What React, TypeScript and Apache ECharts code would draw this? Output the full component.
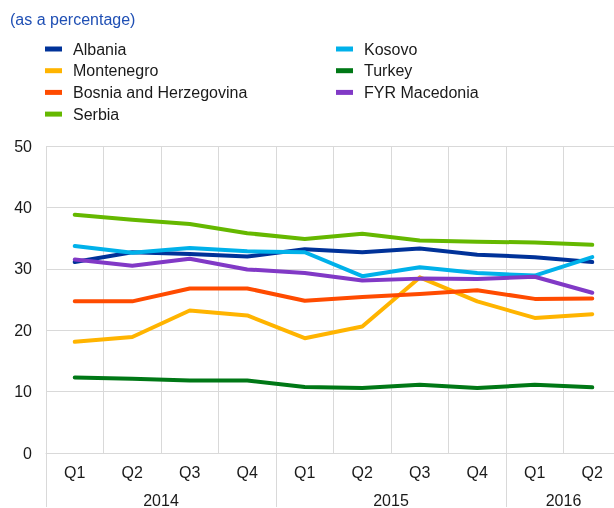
import React, { useEffect, useRef } from "react";
import * as echarts from "echarts";

const years = ["2014", "2015", "2016"];
const quartersPerYear = [4, 4, 2];
const quarterNames = ["Q1", "Q2", "Q3", "Q4"];

const albania = [31.1, 32.7, 32.4, 32.0, 33.2, 32.7, 33.3, 32.3, 31.9, 31.1];
const montenegro = [18.1, 18.9, 23.2, 22.4, 18.7, 20.6, 28.6, 24.7, 22.0, 22.6];
const bosnia = [24.7, 24.7, 26.8, 26.8, 24.8, 25.4, 25.9, 26.5, 25.1, 25.15];
const serbia = [38.8, 38.0, 37.3, 35.8, 34.85, 35.7, 34.6, 34.4, 34.3, 33.9];
const kosovo = [33.7, 32.6, 33.4, 32.85, 32.7, 28.8, 30.25, 29.3, 28.9, 31.9];
const turkey = [12.3, 12.1, 11.8, 11.8, 10.75, 10.6, 11.1, 10.6, 11.1, 10.7];
const macedonia = [31.5, 30.5, 31.65, 29.9, 29.3, 28.1, 28.4, 28.35, 28.7, 26.1];

const yTicks = [0, 10, 20, 30, 40, 50];

const seriesDefs = [
  { name: "Albania", data: albania, color: "#003299" },
  { name: "Montenegro", data: montenegro, color: "#ffb400" },
  { name: "Bosnia and Herzegovina", data: bosnia, color: "#ff4b00" },
  { name: "Serbia", data: serbia, color: "#65b800" },
  { name: "Kosovo", data: kosovo, color: "#00b1ea" },
  { name: "Turkey", data: turkey, color: "#007816" },
  { name: "FYR Macedonia", data: macedonia, color: "#8139c6" },
];

const FONT = "'Liberation Sans', Arial, Helvetica, sans-serif";

export default function App() {
  const ref = useRef<HTMLDivElement>(null);
  useEffect(() => {
    if (!ref.current) return;
    const chart = echarts.init(ref.current, undefined, { renderer: "svg" });

    const categories: string[] = [];
    const yearCenters: Record<number, string> = {};
    let start = 0;
    years.forEach((y, i) => {
      for (let q = 0; q < quartersPerYear[i]; q++) categories.push(y + " " + quarterNames[q]);
      yearCenters[start + quartersPerYear[i] / 2] = y;
      start += quartersPerYear[i];
    });
    const boundaries = new Set<number>();
    let acc = 0;
    quartersPerYear.forEach((n) => {
      boundaries.add(acc);
      acc += n;
    });

    const grid = "#d9d9d9";
    const legendText = { fontSize: 16, color: "#1a1a1a", fontFamily: FONT, lineHeight: 16, padding: [0, 0, 0, 6] };

    chart.setOption({
      animation: false,
      title: {
        text: "(as a percentage)",
        left: 10,
        top: 11,
        padding: 0,
        textStyle: { fontSize: 16, color: "#1f4fb4", fontWeight: "normal", fontFamily: FONT },
      },
      legend: [
        {
          data: seriesDefs.slice(0, 4).map((s) => s.name),
          orient: "vertical",
          left: 45,
          top: 41,
          padding: 0,
          itemWidth: 17,
          itemHeight: 5,
          itemGap: 5.7,
          icon: "rect",
          textStyle: legendText,
          selectedMode: false,
        },
        {
          data: seriesDefs.slice(4).map((s) => s.name),
          orient: "vertical",
          left: 336,
          top: 41,
          padding: 0,
          itemWidth: 17,
          itemHeight: 5,
          itemGap: 5.7,
          icon: "rect",
          textStyle: legendText,
          selectedMode: false,
        },
      ],
      grid: { left: 46, right: 0, top: 146, bottom: 54, containLabel: false },
      xAxis: [
        {
          type: "category",
          data: categories,
          boundaryGap: true,
          axisLine: { show: true, lineStyle: { color: grid, width: 1 } },
          axisTick: {
            show: true,
            length: 54,
            interval: (i: number) => boundaries.has(i),
            lineStyle: { color: grid },
          },
          axisLabel: {
            fontSize: 16,
            color: "#1a1a1a",
            fontFamily: FONT,
            margin: 11,
            formatter: (v: string) => v.split(" ")[1],
          },
          splitLine: { show: true, interval: 0, lineStyle: { color: grid } },
        },
        {
          type: "value",
          min: 0,
          max: categories.length,
          interval: 1,
          position: "bottom",
          axisLine: { show: false },
          axisTick: { show: false },
          splitLine: { show: false },
          axisLabel: {
            fontSize: 16,
            color: "#1a1a1a",
            fontFamily: FONT,
            margin: 39,
            showMinLabel: false,
            showMaxLabel: false,
            formatter: (v: number) => yearCenters[v] || "",
          },
        },
      ],
      yAxis: {
        type: "value",
        min: yTicks[0],
        max: yTicks[yTicks.length - 1],
        interval: yTicks[1] - yTicks[0],
        axisLine: { show: false },
        axisTick: { show: false },
        axisLabel: { fontSize: 16, color: "#1a1a1a", fontFamily: FONT, margin: 14 },
        splitLine: { show: true, lineStyle: { color: grid } },
      },
      series: seriesDefs.map((s) => ({
        name: s.name,
        type: "line",
        data: s.data,
        xAxisIndex: 0,
        color: s.color,
        showSymbol: false,
        symbol: "none",
        lineStyle: { width: 4, color: s.color, cap: "round", join: "round" },
        itemStyle: { color: s.color },
      })),
    });
    return () => chart.dispose();
  }, []);
  return (
    <div style={{ position: "fixed", left: 0, top: 0, width: 614, height: 508, overflow: "hidden" }}>
      <div ref={ref} style={{ width: 621, height: 508 }} />
    </div>
  );
}
